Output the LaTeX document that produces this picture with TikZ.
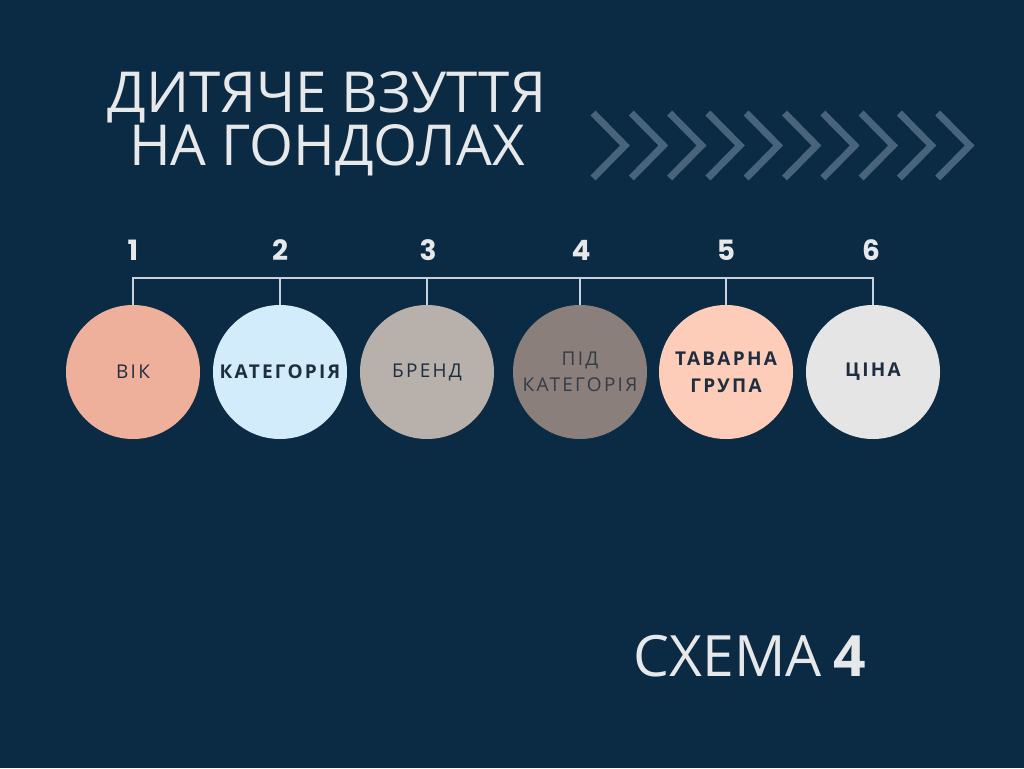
\documentclass[tikz,border=0pt]{standalone}
\usepackage{fontspec}
\setmainfont{Open Sans}
\newfontfamily\lblfont[LetterSpace=12]{Open Sans}
\newfontfamily\numfont{Poppins}
\definecolor{bg}{HTML}{0B2A43}
\definecolor{chev}{HTML}{48637C}
\definecolor{linec}{HTML}{C8D2DC}
\definecolor{titlec}{HTML}{E6E8EA}
\definecolor{txtc}{HTML}{1E2E40}
\definecolor{txtd}{HTML}{323D48}
\definecolor{cA}{HTML}{EEB09B}
\definecolor{cB}{HTML}{D3ECFB}
\definecolor{cC}{HTML}{B8B0AB}
\definecolor{cD}{HTML}{8A7F7B}
\definecolor{cE}{HTML}{FECDB9}
\definecolor{cF}{HTML}{E5E5E5}
\tikzset{
  disc/.style={circle, minimum size=134pt, inner sep=0pt, text=txtc, align=center,
    font=\lblfont\fontsize{19}{26.5}\selectfont},
  boldlbl/.style={font=\lblfont\bfseries\fontsize{19}{27}\selectfont},
  numlbl/.style={anchor=base, text=titlec, font=\numfont\bfseries\fontsize{28}{30}\selectfont},
  bracket/.style={draw=linec, line width=2pt},
  chevron/.style={draw=chev, line width=7pt, line cap=butt, line join=miter}
}
\begin{document}
\begin{tikzpicture}[x=1pt,y=-1pt]
\fill[bg] (0,0) rectangle (1024,768);
\useasboundingbox (0,0) rectangle (1024,768);
% title
\node[anchor=base, text=titlec, font=\fontsize{56.5}{52}\selectfont] (t1) at (327,112) {ДИТЯЧЕ ВЗУТТЯ};
\node[anchor=base, text=titlec, font=\fontsize{56.5}{52}\selectfont] (t2) at (327,165) {НА ГОНДОЛАХ};
% chevrons
\foreach \i in {0,...,9} {
  \draw[chevron] ({593+38.3*\i},113) -- ({625+38.3*\i},145.5) -- ({593+38.3*\i},178);
}
% circles
\node[disc, fill=cA] (c1) at (133,372) {ВІК};
\node[disc, fill=cB, boldlbl] (c2) at (280,372) {КАТЕГОРІЯ};
\node[disc, fill=cC] (c3) at (427,372) {БРЕНД};
\node[disc, fill=cD, text=txtd] (c4) at (580,372) {ПІД\\КАТЕГОРІЯ};
\node[disc, fill=cE, boldlbl] (c5) at (726,372) {ТАВАРНА\\ГРУПА};
\node[disc, fill=cF, boldlbl] (c6) at (873,372) {ЦІНА};
% bracket
\coordinate (h1) at (133,278);
\coordinate (h6) at (873,278);
\draw[bracket] (c1.north) -- (h1) -- (h6) -- (c6.north);
\foreach \n/\x in {c2/280,c3/427,c4/580,c5/726} {
  \draw[bracket] (\n.north) -- (\x,278);
}
% numbers
\foreach \k/\x in {1/133,2/280,3/428,4/581,5/726,6/871} {
  \node[numlbl] (n\k) at (\x,260) {\k};
}
% footer
\node[anchor=base east, text=titlec, font=\fontsize{57}{57}\selectfont, inner sep=0pt] (sch) at (866,676) {СХЕМА\hspace{0.2em}\textbf{4}};
\end{tikzpicture}
\end{document}
